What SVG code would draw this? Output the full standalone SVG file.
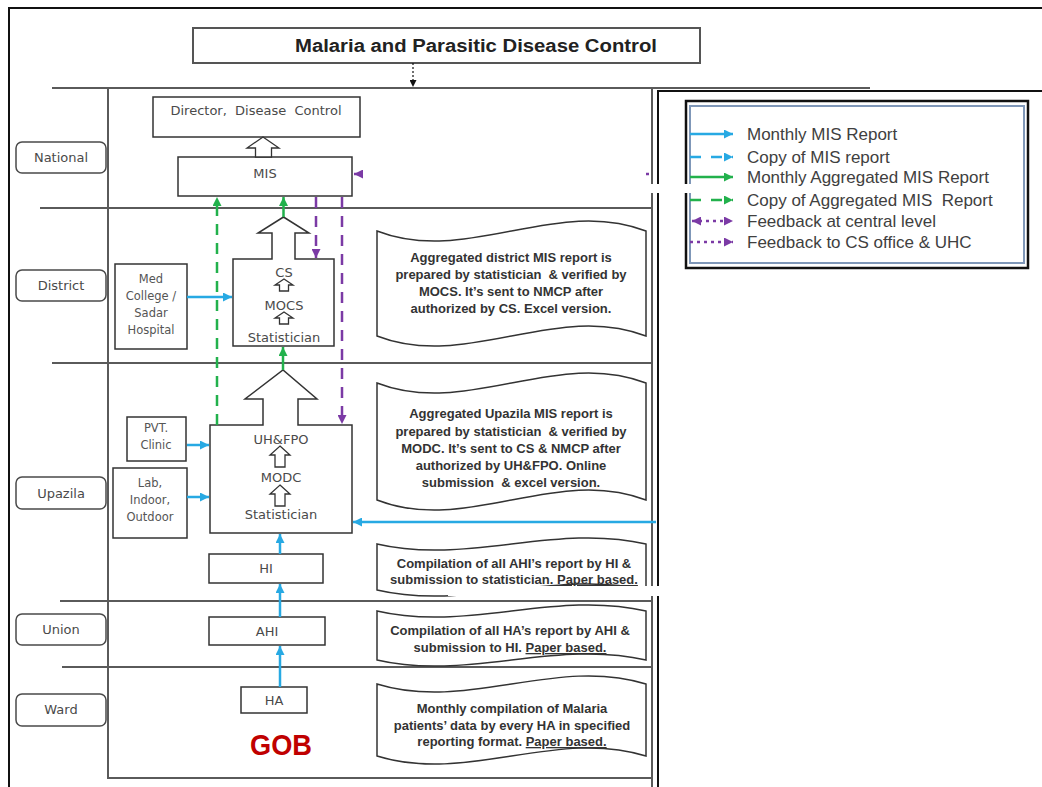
<svg xmlns="http://www.w3.org/2000/svg" width="1042" height="787" viewBox="0 0 1042 787">
<style>
.sec{stroke:#5a5a5a;stroke-width:2;fill:none}
.frame{stroke:#111;stroke-width:2;fill:none}
.lvl{fill:#fff;stroke:#4a4a4a;stroke-width:1.5}
.lt{font-family:"DejaVu Sans",sans-serif;font-size:13px;fill:#4a4a4a;text-anchor:middle}
.box{fill:#fff;stroke:#333;stroke-width:1.5}
.nt{font-family:"DejaVu Sans",sans-serif;font-size:13px;fill:#4a4a4a;text-anchor:middle}
.st{font-family:"DejaVu Sans",sans-serif;font-size:11.5px;fill:#555;text-anchor:middle}
.hol{fill:#fff;stroke:#333;stroke-width:1.3}
.wave{fill:#fff;stroke:#333;stroke-width:1.5}
.wt{font-family:"Liberation Sans",Arial,sans-serif;font-weight:bold;font-size:13px;fill:#333;text-anchor:middle}
.leg{font-family:"Liberation Sans",Arial,sans-serif;font-size:17px;fill:#404040}
.blue{stroke:#27A9E3;stroke-width:2.5;fill:none}
.green{stroke:#22B14C;stroke-width:2.5;fill:none}
.purple{stroke:#7B3AA5;stroke-width:2.5;fill:none}
.dash{stroke-dasharray:11,8}
.dot{stroke-dasharray:3,4}
</style>
<defs>
<marker id="ab" viewBox="0 0 10 10" refX="10" refY="5" markerWidth="10" markerHeight="9" markerUnits="userSpaceOnUse" orient="auto-start-reverse"><path d="M0,0 L10,5 L0,10 z" fill="#27A9E3"/></marker>
<marker id="ag" viewBox="0 0 10 10" refX="10" refY="5" markerWidth="10" markerHeight="9" markerUnits="userSpaceOnUse" orient="auto-start-reverse"><path d="M0,0 L10,5 L0,10 z" fill="#22B14C"/></marker>
<marker id="ap" viewBox="0 0 10 10" refX="10" refY="5" markerWidth="10" markerHeight="9" markerUnits="userSpaceOnUse" orient="auto-start-reverse"><path d="M0,0 L10,5 L0,10 z" fill="#7B3AA5"/></marker>
<marker id="ak" viewBox="0 0 10 10" refX="10" refY="5" markerWidth="7" markerHeight="7" markerUnits="userSpaceOnUse" orient="auto"><path d="M0,0 L10,5 L0,10 z" fill="#111"/></marker>
</defs>
<rect width="1042" height="787" fill="#fff"/>

<!-- frame and grid -->
<g id="grid">
<path class="frame" d="M9,787 V8 H1042"/>
<path class="frame" d="M658,787 V91 H1042" stroke-width="1.5"/>
<path class="sec" d="M52,88 H870"/>
<path class="sec" d="M652,88 V787"/>
<path class="sec" d="M108,88 V778 H652"/>
<path class="sec" d="M40,208 H652"/>
<path class="sec" d="M52,363 H652"/>
<path class="sec" d="M60,601 H652"/>
<path class="sec" d="M62,667 H652"/>
</g>

<g id="title">
<rect x="193" y="28" width="507" height="35" fill="#fff" stroke="#555" stroke-width="2"/>
<text x="476" y="52" font-family="Liberation Sans, Arial, sans-serif" font-weight="bold" font-size="18" fill="#222" text-anchor="middle" textLength="362" lengthAdjust="spacingAndGlyphs">Malaria and Parasitic Disease Control</text>
</g>

<!-- level labels -->
<g id="lvl-national"><rect class="lvl" x="16" y="142" width="90" height="31" rx="6"/><text class="lt" x="61" y="162">National</text></g>
<g id="lvl-district"><rect class="lvl" x="16" y="270" width="90" height="31" rx="6"/><text class="lt" x="61" y="290">District</text></g>
<g id="lvl-upazila"><rect class="lvl" x="16" y="477" width="90" height="32" rx="6"/><text class="lt" x="61" y="498">Upazila</text></g>
<g id="lvl-union"><rect class="lvl" x="16" y="614" width="90" height="31" rx="6"/><text class="lt" x="61" y="634">Union</text></g>
<g id="lvl-ward"><rect class="lvl" x="16" y="694" width="90" height="32" rx="6"/><text class="lt" x="61" y="714">Ward</text></g>

<!-- national -->
<g id="director"><rect class="box" x="153" y="97" width="207" height="40"/><text class="nt" x="256" y="115" xml:space="preserve">Director,  Disease  Control</text></g>
<g id="mis">
<rect class="box" x="178" y="157" width="174" height="39"/>
<text class="nt" x="265" y="178">MIS</text>
<polygon class="hol" points="263,137 279,148 271.5,148 271.5,157 255.5,157 255.5,148 247,148"/>
</g>

<!-- district -->
<g id="medcollege">
<rect class="box" x="115" y="264" width="72" height="85"/>
<text class="st" x="151" y="283" font-size="12">Med</text>
<text class="st" x="151" y="300" font-size="12">College /</text>
<text class="st" x="151" y="317" font-size="12">Sadar</text>
<text class="st" x="151" y="334" font-size="12">Hospital</text>
</g>
<g id="cs">
<path class="box" d="M233,259 H272 V233 H258 L283.5,217 L309,233 H295 V259 H334 V346 H233 Z"/>
<text class="nt" x="284" y="277">CS</text>
<polygon class="hol" points="284,279 293,285 288.5,285 288.5,291 279.5,291 279.5,285 275,285"/>
<text class="nt" x="284" y="310">MOCS</text>
<polygon class="hol" points="284,312 293,318 288.5,318 288.5,324 279.5,324 279.5,318 275,318"/>
<text class="nt" x="284" y="342">Statistician</text>
</g>
<g id="district-note">
<path class="wave" d="M377,231 C466.7,266 556.3,196 646,231 L646,336 C556.3,301 466.7,371 377,336 Z"/>
<text class="wt" xml:space="preserve"><tspan x="511" y="262">Aggregated district MIS report is</tspan><tspan x="511" y="279">prepared by statistician  &amp; verified by</tspan><tspan x="511" y="296">MOCS. It’s sent to NMCP after</tspan><tspan x="511" y="313">authorized by CS. Excel version.</tspan></text>
</g>

<!-- upazila -->
<g id="pvt">
<rect class="box" x="127" y="417" width="59" height="44"/>
<text class="st" x="156" y="432" font-size="11">PVT.</text>
<text class="st" x="156" y="449" font-size="11">Clinic</text>
</g>
<g id="lab">
<rect class="box" x="113" y="468" width="74" height="70" stroke-width="2.2"/>
<text class="st" x="150" y="487">Lab,</text>
<text class="st" x="150" y="504">Indoor,</text>
<text class="st" x="150" y="521">Outdoor</text>
</g>
<g id="uhfpo">
<path class="box" d="M210,425 H263 V399 H245 L283,370 L317,399 H298 V425 H352 V533 H210 Z"/>
<text class="nt" x="281" y="444" font-size="14">UH&amp;FPO</text>
<polygon class="hol" points="280,446 290,455 285,455 285,467 275,467 275,455 270,455"/>
<text class="nt" x="281" y="482" font-size="14">MODC</text>
<polygon class="hol" points="280,485 290,494 285,494 285,506 275,506 275,494 270,494"/>
<text class="nt" x="281" y="519" font-size="14">Statistician</text>
</g>
<g id="upazila-note">
<path class="wave" d="M377,383 C466.7,418 556.3,348 646,383 L646,500 C556.3,465 466.7,535 377,500 Z"/>
<text class="wt" xml:space="preserve"><tspan x="511" y="418">Aggregated Upazila MIS report is</tspan><tspan x="511" y="435.5">prepared by statistician  &amp; verified by</tspan><tspan x="511" y="453">MODC. It’s sent to CS &amp; NMCP after</tspan><tspan x="511" y="470">authorized by UH&amp;FPO. Online</tspan><tspan x="511" y="487">submission  &amp; excel version.</tspan></text>
</g>
<g id="hi"><rect class="box" x="209" y="554" width="114" height="29"/><text class="nt" x="266" y="573">HI</text></g>
<g id="hi-note">
<path class="wave" d="M377,544 C466.7,565 556.3,523 646,544 L646,590 C556.3,569 466.7,611 377,590 Z"/>
<text class="wt" xml:space="preserve"><tspan x="514" y="568">Compilation of all AHI’s report by HI &amp;</tspan><tspan x="514" y="584">submission to statistician. <tspan text-decoration="underline">Paper based.</tspan></tspan></text>
</g>

<!-- union -->
<g id="ahi"><rect class="box" x="209" y="617" width="116" height="28"/><text class="nt" x="267" y="636">AHI</text></g>
<g id="union-note">
<path class="wave" d="M377,611 C466.7,632 556.3,590 646,611 L646,660 C556.3,639 466.7,681 377,660 Z"/>
<text class="wt" xml:space="preserve"><tspan x="510" y="635">Compilation of all HA’s report by AHI &amp;</tspan><tspan x="510" y="652">submission to HI. <tspan text-decoration="underline">Paper based.</tspan></tspan></text>
</g>

<!-- ward -->
<g id="ha"><rect class="box" x="241" y="687" width="66" height="26"/><text class="nt" x="274" y="705">HA</text></g>
<g id="gob"><text x="281" y="755" font-family="Liberation Sans, Arial, sans-serif" font-weight="bold" font-size="30" fill="#C00000" text-anchor="middle" textLength="62" lengthAdjust="spacingAndGlyphs">GOB</text></g>
<g id="ward-note">
<path class="wave" d="M377,684 C466.7,712 556.3,656 646,684 L646,756 C556.3,728 466.7,784 377,756 Z"/>
<text class="wt" xml:space="preserve"><tspan x="512" y="713">Monthly compilation of Malaria</tspan><tspan x="512" y="729.5">patients’ data by every HA in specified</tspan><tspan x="512" y="746">reporting format. <tspan text-decoration="underline">Paper based.</tspan></tspan></text>
</g>

<!-- connectors -->
<g id="connectors">
<path d="M413,63 V87" stroke="#111" stroke-width="1.2" stroke-dasharray="2,2" fill="none" marker-end="url(#ak)"/>
<path class="blue" d="M187,297 H232" marker-end="url(#ab)"/>
<path class="blue" d="M187,445 H209" marker-end="url(#ab)"/>
<path class="blue" d="M187,497 H209" marker-end="url(#ab)"/>
<path class="blue" d="M656,522 H353" marker-end="url(#ab)"/>
<path class="blue" d="M280,554 V534" marker-end="url(#ab)"/>
<path class="blue" d="M280,617 V584" marker-end="url(#ab)"/>
<path class="blue" d="M280,687 V646" marker-end="url(#ab)"/>
<path class="green" d="M283.5,217 V197" marker-end="url(#ag)"/>
<path class="green" d="M283,370 V347" marker-end="url(#ag)"/>
<path class="green dash" d="M217,425 V197" marker-end="url(#ag)"/>
<path class="purple dash" d="M316,197 V258" marker-end="url(#ap)"/>
<path class="purple dash" d="M342,197 V424" marker-end="url(#ap)"/>
<path class="purple" d="M362,174 H354" marker-end="url(#ap)"/>
<path class="purple dot" d="M646,174 H652" stroke-width="2"/>
</g>

<!-- legend -->
<g id="legend">
<rect x="686" y="101" width="342" height="167" fill="#fff" stroke="#111" stroke-width="2.5"/>
<rect x="690" y="106" width="334" height="157" fill="none" stroke="#7f97b8" stroke-width="2"/>
<path class="blue" d="M690,134 H733" marker-end="url(#ab)"/>
<path class="blue" d="M690,157 H733" stroke-dasharray="11,10" marker-end="url(#ab)"/>
<path class="green" d="M690,177 H733" marker-end="url(#ag)"/>
<path class="green" d="M690,200 H733" stroke-dasharray="11,10" marker-end="url(#ag)"/>
<path class="purple dot" d="M692,221 H733" marker-start="url(#ap)" marker-end="url(#ap)"/>
<path class="purple dot" d="M690,242 H733" marker-end="url(#ap)"/>
<text class="leg" x="747" y="140">Monthly MIS Report</text>
<text class="leg" x="747" y="163">Copy of MIS report</text>
<text class="leg" x="747" y="183">Monthly Aggregated MIS Report</text>
<text class="leg" x="747" y="206" xml:space="preserve">Copy of Aggregated MIS  Report</text>
<text class="leg" x="747" y="227">Feedback at central level</text>
<text class="leg" x="747" y="248">Feedback to CS office &amp; UHC</text>
</g>

<!-- scan gaps -->
<g id="gaps">
<rect x="648" y="184" width="44" height="9" fill="#fff"/>
<rect x="448" y="586" width="214" height="10" fill="#fff"/>
</g>
</svg>
